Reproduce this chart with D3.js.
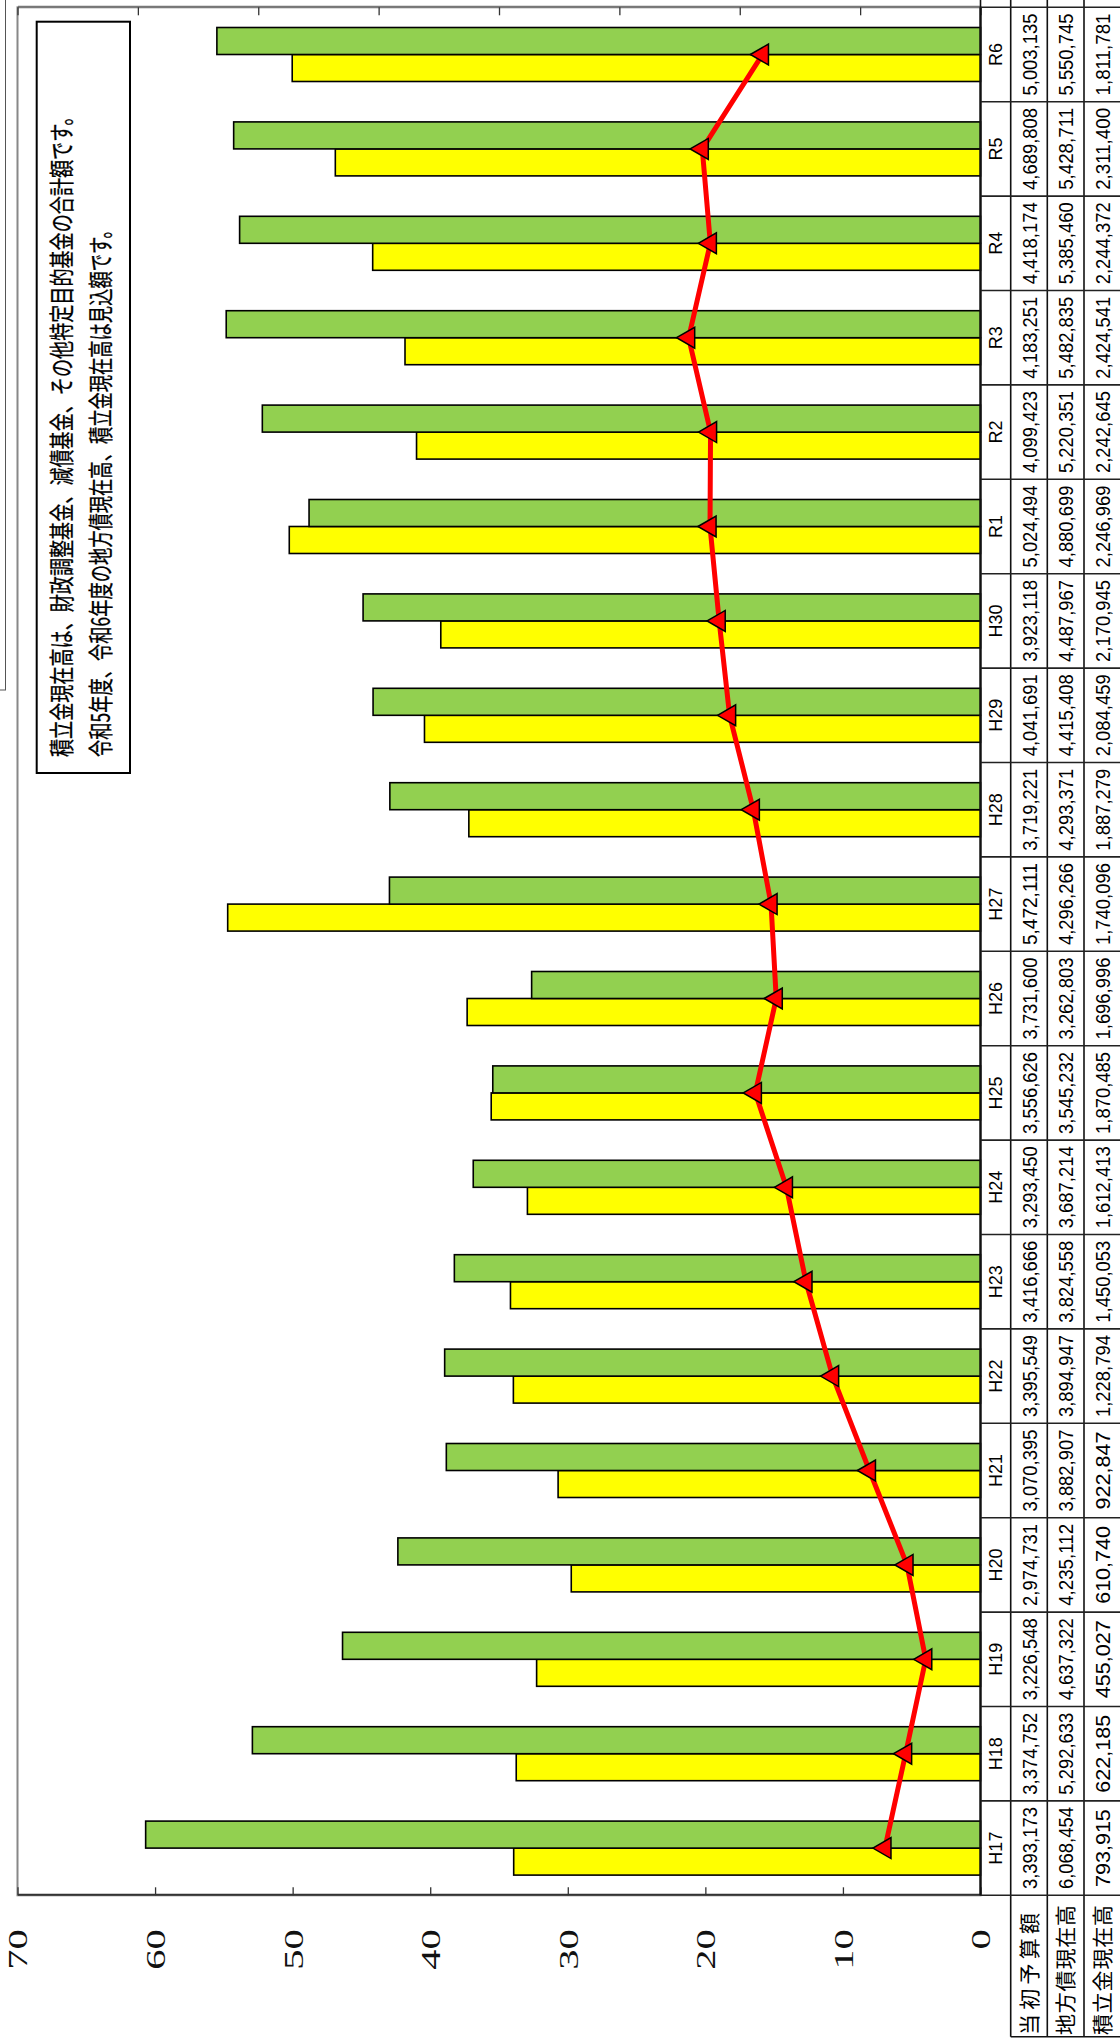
<!DOCTYPE html>
<html>
<head>
<meta charset="utf-8">
<script src="https://cdn.jsdelivr.net/npm/d3@7"></script>
<style>
  html, body { margin: 0; padding: 0; background: #fff; }
  svg { display: block; }
</style>
</head>
<body>
<svg id="chart" width="1120" height="2044"></svg>
<script>
// ---------- data ----------
const categories = ["H17","H18","H19","H20","H21","H22","H23","H24","H25","H26","H27","H28","H29","H30","R1","R2","R3","R4","R5","R6"];
const budget = [3393173,3374752,3226548,2974731,3070395,3395549,3416666,3293450,3556626,3731600,5472111,3719221,4041691,3923118,5024494,4099423,4183251,4418174,4689808,5003135];
const debt = [6068454,5292633,4637322,4235112,3882907,3894947,3824558,3687214,3545232,3262803,4296266,4293371,4415408,4487967,4880699,5220351,5482835,5385460,5428711,5550745];
const fund = [793915,622185,455027,610740,922847,1228794,1450053,1612413,1870485,1696996,1740096,1887279,2084459,2170945,2246969,2242645,2424541,2244372,2311400,1811781];
const rowLabels = ["当初予算額","地方債現在高","積立金現在高"];
const primaryTicks = [0,10,20,30,40,50,60,70];
const secondaryTicks = [0,10,20,30,40,50,60,70,80];
const noteLines = ["積立金現在高は、財政調整基金、減債基金、その他特定目的基金の合計額です。",
                   "令和5年度、令和6年度の地方債現在高、積立金現在高は見込額です。"];
const UNIT = 100000;

// ---------- layout (drawn in landscape, then rotated -90deg) ----------
const W = 2044, H = 1120;
const svg = d3.select("#chart");
svg.append("rect").attr("width",1120).attr("height",2044).attr("fill","#fff");

// partially visible box at the far left
svg.append("rect").attr("x",-10).attr("y",-10).attr("width",15.5).attr("height",700)
  .attr("fill","none").attr("stroke","#555").attr("stroke-width",1);

const g = svg.append("g").attr("transform", `translate(0,${W}) rotate(-90)`);

const plotL = 148.7, plotR = 2036.7, plotT = 17.5, plotB = 980.5;
const rowY = [980.5, 1010.7, 1047.3, 1084, 1121];
const tableLeft = 7.3;

const xCell = d3.scaleBand().domain(categories).range([plotL, plotR]).padding(0);
const xBar = d3.scaleBand().domain(categories).range([plotL, plotR]).paddingInner(0.428).paddingOuter(0.214);
const xSeries = d3.scaleBand().domain(["budget","debt"]).range([0, xBar.bandwidth()]);
const yP = d3.scaleLinear().domain([0,70]).range([plotB, plotT]);
const yS = d3.scaleLinear().domain([0,80]).range([plotB, plotT]);

// squeeze/stretch a text along its reading direction to a target length
function fitText(sel, targetFn, anchorX) {
  sel.each(function(d, i) {
    const t = d3.select(this);
    const nat = this.getComputedTextLength();
    const target = targetFn(d, i);
    const k = nat > 0 ? target / nat : 1;
    const x = +t.attr("x"), y = +t.attr("y");
    const anchor = t.attr("text-anchor") || "start";
    t.attr("x", 0).attr("y", 0)
     .attr("transform", `translate(${x},${y}) scale(${k},1)`);
  });
}

// plot area border
g.append("rect").attr("x",plotL).attr("y",plotT).attr("width",plotR-plotL).attr("height",plotB-plotT)
  .attr("fill","#fff").attr("stroke","#888").attr("stroke-width",2);

// bars
const barData = [];
categories.forEach((c,i)=>{
  barData.push({c, key:"budget", v: budget[i]/UNIT, color:"#FFFF00"});
  barData.push({c, key:"debt", v: debt[i]/UNIT, color:"#92D050"});
});
g.append("g").selectAll("rect").data(barData).join("rect")
  .attr("x", d => xBar(d.c) + xSeries(d.key))
  .attr("width", xSeries.bandwidth())
  .attr("y", d => yP(d.v))
  .attr("height", d => yP(0) - yP(d.v))
  .attr("fill", d => d.color)
  .attr("stroke","#000").attr("stroke-width",1.6);

// primary axis (left in landscape)
const axP = g.append("g").attr("transform",`translate(${plotL},0)`)
  .call(d3.axisLeft(yP).tickValues(primaryTicks).tickSizeInner(-8).tickSizeOuter(0).tickPadding(34));
axP.select(".domain").attr("stroke","#333").attr("stroke-width",2);
axP.selectAll(".tick line").attr("stroke","#333").attr("stroke-width",1.3);
axP.selectAll(".tick text")
  .attr("x",0).attr("dy","0.35em")
  .attr("transform","translate(-34,0) scale(1.5,1)")
  .attr("font-family","'Liberation Serif','DejaVu Serif',serif")
  .attr("font-size",27).attr("fill","#111").attr("text-anchor","end");

// secondary axis (right in landscape) - ticks only
const axS = g.append("g").attr("transform",`translate(${plotR},0)`)
  .call(d3.axisRight(yS).tickValues(secondaryTicks).tickSizeInner(-8).tickSizeOuter(0).tickFormat(""));
axS.select(".domain").attr("stroke","#777").attr("stroke-width",2);
axS.selectAll(".tick line").attr("stroke","#333").attr("stroke-width",1.3);

// category axis line at 0
g.append("line").attr("x1",plotL).attr("x2",plotR).attr("y1",yP(0)).attr("y2",yP(0))
  .attr("stroke","#111").attr("stroke-width",2);

// red line + markers (secondary axis)
const pts = categories.map((c,i)=>({c, v: fund[i]/UNIT}));
g.append("path").datum(pts)
  .attr("fill","none").attr("stroke","#FF0000").attr("stroke-width",5).attr("stroke-linejoin","round")
  .attr("d", d3.line().x(d => xCell(d.c) + xCell.bandwidth()/2).y(d => yS(d.v)));
g.append("g").selectAll("path").data(pts).join("path")
  .attr("transform", d => `translate(${xCell(d.c) + xCell.bandwidth()/2},${yS(d.v)})`)
  .attr("d", d3.symbol(d3.symbolTriangle, 190)())
  .attr("fill","#FF0000").attr("stroke","#000").attr("stroke-width",1.5);

// ---------- data table ----------
const tbl = g.append("g");
rowY.forEach((yy,k)=>{
  tbl.append("line").attr("x1", k===0 ? plotL : tableLeft).attr("x2", plotR + 10)
    .attr("y1",yy).attr("y2",yy).attr("stroke","#111").attr("stroke-width",1.6);
});
const bounds = categories.map(c => xCell(c)).concat([plotR]);
tbl.selectAll("line.vb").data(bounds).join("line").attr("class","vb")
  .attr("x1", d=>d).attr("x2", d=>d).attr("y1", rowY[0]).attr("y2", rowY[4]+10)
  .attr("stroke","#222").attr("stroke-width",1.6);
tbl.append("line").attr("x1",tableLeft).attr("x2",tableLeft).attr("y1",rowY[1]).attr("y2",rowY[4]+10)
  .attr("stroke","#111").attr("stroke-width",1.6);

// category labels
tbl.selectAll("text.cat").data(categories).join("text").attr("class","cat")
  .attr("x", c => xCell(c) + xCell.bandwidth()/2)
  .attr("y", (rowY[0]+rowY[1])/2).attr("dy","0.36em")
  .attr("text-anchor","middle")
  .attr("font-family","'Liberation Sans',Arial,sans-serif").attr("font-size",18).attr("fill","#000")
  .text(c => c);

const fmt = d3.format(",");
const series = [budget, debt, fund];
series.forEach((arr, r)=>{
  const sel = tbl.append("g").selectAll("text").data(categories).join("text")
    .attr("x", c => xCell(c) + xCell.bandwidth()/2)
    .attr("y", (rowY[r+1]+rowY[r+2])/2).attr("dy","0.36em")
    .attr("text-anchor","middle")
    .attr("font-family","'Liberation Sans',Arial,sans-serif").attr("font-size",21).attr("fill","#000")
    .text((c,i) => fmt(arr[i]));
  fitText(sel, (c,i) => fmt(arr[i]).length >= 9 ? 82 : 78);
});

// row labels
tbl.selectAll("text.row").data(rowLabels).join("text").attr("class","row")
  .attr("x", 9)
  .attr("y", (d,i) => (rowY[i+1]+rowY[i+2])/2).attr("dy","0.36em")
  .attr("text-anchor","start")
  .attr("font-family","'Noto Sans CJK JP',sans-serif").attr("font-size",21).attr("fill","#000")
  .attr("textLength", d => d.length === 5 ? 122 : 130)
  .attr("lengthAdjust","spacing")
  .text(d => d);

// ---------- note box ----------
const boxX0 = W - 773, boxX1 = W - 21.7, boxY0 = 36.7, boxY1 = 130;
g.append("rect").attr("x",boxX0).attr("y",boxY0).attr("width",boxX1-boxX0).attr("height",boxY1-boxY0)
  .attr("fill","#fff").attr("stroke","#000").attr("stroke-width",2);
const noteY = [62, 101];
const noteLen = [650, 536];
const notes = g.selectAll("text.note").data(noteLines).join("text").attr("class","note")
  .attr("x", W - 757)
  .attr("y", (d,i) => noteY[i]).attr("dy","0.36em")
  .attr("font-family","'Noto Sans CJK JP',sans-serif").attr("font-size",25).attr("fill","#000")
  .attr("stroke","#000").attr("stroke-width",0.3)
  .text(d => d);
fitText(notes, (d,i) => noteLen[i]);
</script>
</body>
</html>
